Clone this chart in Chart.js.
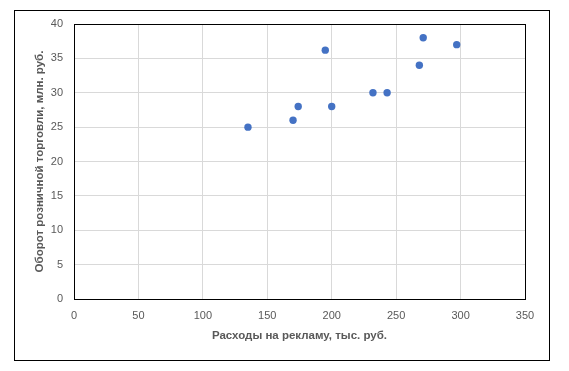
<!DOCTYPE html>
<html>
<head>
<meta charset="utf-8">
<script src="https://cdn.jsdelivr.net/npm/chart.js@4"></script>
<style>
  html, body { margin: 0; padding: 0; background: #fff; }
  #wrap { position: relative; width: 569px; height: 371px; }
</style>
</head>
<body>
<div id="wrap"><canvas id="c" width="569" height="371"></canvas></div>
<script>
// расходы на рекламу (тыс. руб.) и оборот (млн. руб.)
const adSpend  = [135, 170, 174, 195, 200, 232, 243, 268, 271, 297];
const turnover = [25, 26, 28, 36.2, 28, 30, 30, 34, 38, 37];

const xTitle = 'Расходы на рекламу, тыс. руб.';
const yTitle = 'Оборот розничной торговли, млн. руб.';

const FONT = "'Liberation Sans', Arial, sans-serif";
const TICK_COLOR = '#595959';

const points = adSpend.map((x, i) => ({ x, y: turnover[i] }));

// рамки: внешняя рамка диаграммы и рамка области построения
const frames = {
  id: 'frames',
  beforeDraw(chart) {
    const ctx = chart.ctx;
    ctx.save();
    ctx.fillStyle = '#fff';
    ctx.fillRect(0, 0, chart.width, chart.height);
    ctx.strokeStyle = '#000';
    ctx.lineWidth = 1;
    ctx.strokeRect(14.5, 10.5, 535, 350);
    ctx.restore();
  },
  afterDatasetsDraw(chart) {
    const a = chart.chartArea, ctx = chart.ctx;
    ctx.save();
    ctx.strokeStyle = '#000';
    ctx.lineWidth = 1;
    ctx.strokeRect(Math.round(a.left) + 0.5, Math.round(a.top) + 0.5,
                   Math.round(a.right - a.left), Math.round(a.bottom - a.top));
    ctx.restore();
  }
};

new Chart(document.getElementById('c').getContext('2d'), {
  type: 'scatter',
  data: {
    datasets: [{
      data: points,
      backgroundColor: '#4472C4',
      borderColor: '#4472C4',
      pointRadius: 3.7,
      pointHoverRadius: 3.7,
      borderWidth: 0,
    }],
  },
  options: {
    responsive: false,
    animation: false,
    layout: { padding: { left: 0, top: 24, right: 44, bottom: 0 } },
    plugins: { legend: { display: false }, tooltip: { enabled: false } },
    scales: {
      x: {
        type: 'linear', min: 0, max: 350,
        ticks: { stepSize: 50, color: TICK_COLOR, padding: 10, font: { family: FONT, size: 11 } },
        grid: { color: '#d9d9d9', drawTicks: false },
        border: { display: false },
        title: {
          display: true, text: xTitle, color: TICK_COLOR,
          font: { family: FONT, size: 11.5, weight: 'bold' },
          padding: { top: 0, bottom: 28 },
        },
        afterFit(scale) { scale.height = 72; },
      },
      y: {
        type: 'linear', min: 0, max: 40,
        ticks: { stepSize: 5, color: TICK_COLOR, padding: 11, font: { family: FONT, size: 11 } },
        grid: { color: '#d9d9d9', drawTicks: false },
        border: { display: false },
        title: {
          display: true, text: yTitle, color: TICK_COLOR,
          font: { family: FONT, size: 11.5, weight: 'bold' },
          padding: { top: 33, bottom: 0 },
        },
        afterFit(scale) { scale.width = 74; },
      },
    },
  },
  plugins: [frames],
});
</script>
</body>
</html>
